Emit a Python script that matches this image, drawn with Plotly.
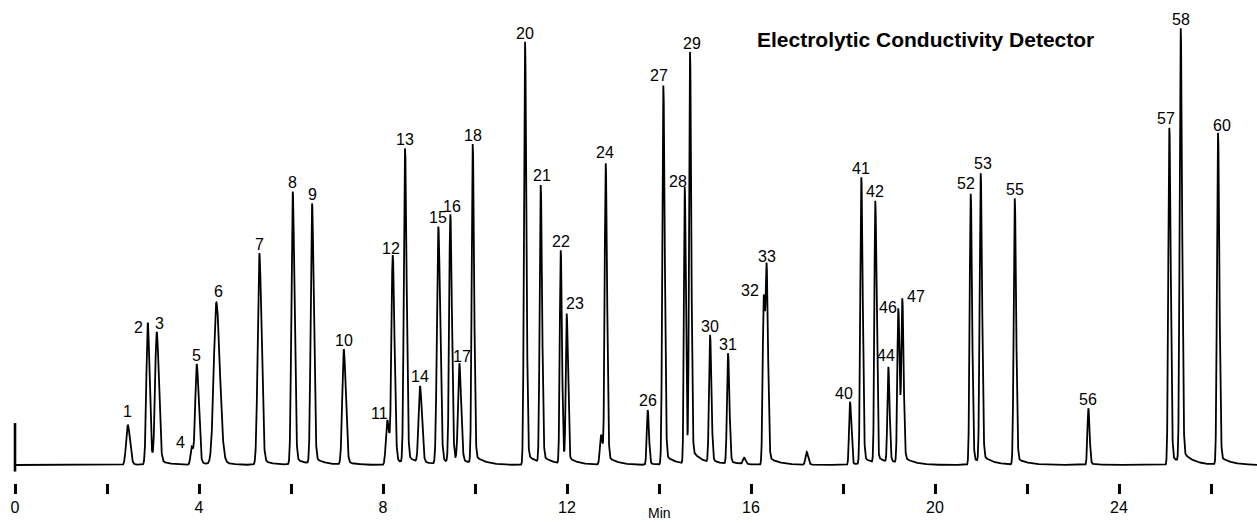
import numpy as np
import plotly.graph_objects as go

# ---- chromatogram peak table -------------------------------------------
# labelled peaks: compound number, retention time (min), apex response, peak sigma (min)
peak_ids = [1, 2, 3, 4, 5, 6, 7, 8, 9, 10, 11, 12, 13, 14, 15, 16, 17, 18,
            20, 21, 22, 23, 24, 26, 27, 28, 29, 30, 31, 32, 33,
            40, 41, 42, 44, 46, 47, 52, 53, 55, 56, 57, 58, 60]
peak_rt = [2.450, 2.885, 3.080, 3.841, 3.950, 4.376, 5.311, 6.037, 6.457, 7.146,
           8.093, 8.211, 8.478, 8.804, 9.202, 9.463, 9.659, 9.950,
           11.087, 11.428, 11.863, 11.993, 12.841, 13.754, 14.094, 14.559, 14.674,
           15.109, 15.500, 16.276, 16.341,
           18.152, 18.398, 18.702, 18.985, 19.202, 19.289,
           20.776, 20.993, 21.733, 23.333, 25.094, 25.341, 26.152]
peak_apex = [9.2, 32.6, 30.5, 4.2, 23.1, 37.2, 48.5, 62.6, 59.9, 26.5,
             10.3, 48.1, 72.5, 18.1, 54.6, 57.4, 23.3, 73.5,
             96.9, 64.1, 49.2, 34.7, 69.1, 12.6, 86.9, 63.7, 94.6,
             29.8, 25.6, 38.9, 46.0,
             14.5, 65.9, 60.5, 22.5, 35.9, 38.2,
             62.1, 66.8, 61.1, 13.0, 77.2, 100.0, 76.1]
peak_sigma = [0.035, 0.030, 0.035, 0.025, 0.032, 0.055, 0.035, 0.028, 0.028, 0.032,
              0.030, 0.028, 0.025, 0.030, 0.030, 0.025, 0.028, 0.022,
              0.022, 0.022, 0.020, 0.020, 0.022, 0.020, 0.022, 0.018, 0.020,
              0.022, 0.022, 0.022, 0.022,
              0.020, 0.022, 0.020, 0.020, 0.021, 0.021,
              0.022, 0.022, 0.022, 0.020, 0.022, 0.022, 0.022]

# unlabelled shoulder and small bumps
minor_rt = [12.74, 15.85, 17.21]
minor_apex = [6.9, 1.7, 3.0]
minor_sigma = [0.025, 0.025, 0.025]

run_end = 27.0          # min
injection_time = 0.0    # min

# axis ticks (min)
major_ticks = [0, 4, 8, 12, 16, 20, 24]
minor_step = 2

# label nudges in pixels (dx, dy) where a number sits beside its peak
label_nudge = {1: (0, 13), 2: (-9, -5), 3: (3, 8), 4: (-11, 4), 6: (2, 11),
               11: (-8, 7), 12: (-2, 7), 16: (2, 8), 17: (3, 7), 21: (1, 10),
               23: (8, 10), 24: (-1, 11), 27: (-4, 10), 28: (-7, 6), 29: (2, 8),
               32: (-14, 5), 40: (-6, 8), 44: (-2, 11), 46: (-10, 1), 47: (14, 2),
               52: (-5, 10), 53: (2, 10), 57: (-3, 9), 60: (4, 7)}
default_nudge = (0, 9)

TAIL = 0.03
TAU = 0.22


def unit_peak(t, t0, s):
    """Tailing peak of unit height: gaussian front, wider back, exponential tail."""
    d = t - t0
    front = np.exp(-0.5 * (d / s) ** 2)
    back = np.exp(-0.5 * (d / (1.35 * s)) ** 2)
    core = np.where(d < 0, front, back)
    step = 1.0 / (1.0 + np.exp(-np.clip(d / (0.6 * s), -60, 60)))
    tail = np.exp(-np.clip(d, 0, None) / TAU) * step
    return (1 - TAIL) * core + TAIL * tail


all_rt = np.array(peak_rt + minor_rt)
all_apex = np.array(peak_apex + minor_apex)
all_sigma = np.array(peak_sigma + minor_sigma)

# amplitudes so that the summed trace passes through each apex value
M = np.array([[unit_peak(np.array([ti]), tj, sj)[0] for tj, sj in zip(all_rt, all_sigma)]
              for ti in all_rt])
amps = np.linalg.solve(M, all_apex)

t = np.arange(injection_time, run_end + 1e-9, 0.002)
signal = np.zeros_like(t)
for a, tj, sj in zip(amps, all_rt, all_sigma):
    signal += a * unit_peak(t, tj, sj)

fig = go.Figure()
fig.add_trace(go.Scatter(x=t, y=signal, mode="lines",
                         line=dict(color="black", width=1.8), hoverinfo="skip"))
# injection marker
fig.add_trace(go.Scatter(x=[injection_time, injection_time], y=[-1.5, 9.6], mode="lines",
                         line=dict(color="black", width=2.6), hoverinfo="skip"))

font_family = "Liberation Sans, Arial, sans-serif"
for pid, rt in zip(peak_ids, peak_rt):
    top = signal[np.argmin(np.abs(t - rt))]
    dx, dy = label_nudge.get(pid, default_nudge)
    fig.add_annotation(x=rt, y=top, text=str(pid), showarrow=False,
                       xanchor="center", yanchor="middle", xshift=dx, yshift=dy,
                       font=dict(family=font_family, size=16, color="black"))

fig.add_annotation(xref="paper", yref="paper", x=0.7363, y=0.919,
                   text="<b>Electrolytic Conductivity Detector</b>", showarrow=False,
                   xanchor="center", yanchor="middle",
                   font=dict(family=font_family, size=21, color="black"))
fig.add_annotation(x=14, xref="x", yref="paper", y=-0.083, text="Min", showarrow=False,
                   xanchor="center", yanchor="bottom",
                   font=dict(family=font_family, size=14, color="black"))

fig.update_layout(
    width=1257, height=523,
    margin=dict(l=0, r=0, t=0, b=40),
    paper_bgcolor="white", plot_bgcolor="white",
    showlegend=False,
    xaxis=dict(range=[-15 / 46, 1242 / 46], showgrid=False, zeroline=False, showline=False,
               tickmode="array", tickvals=major_ticks, ticktext=[str(v) for v in major_ticks],
               ticks="outside", ticklen=10, tickwidth=3, tickcolor="black",
               tickfont=dict(family=font_family, size=16, color="black"),
               minor=dict(dtick=minor_step, tick0=0, ticks="outside", ticklen=10,
                          tickwidth=3, tickcolor="black")),
    yaxis=dict(range=[-18 / 4.367, 465 / 4.367], visible=False, fixedrange=True),
)

fig.write_html("out.html", config={"displayModeBar": False})
